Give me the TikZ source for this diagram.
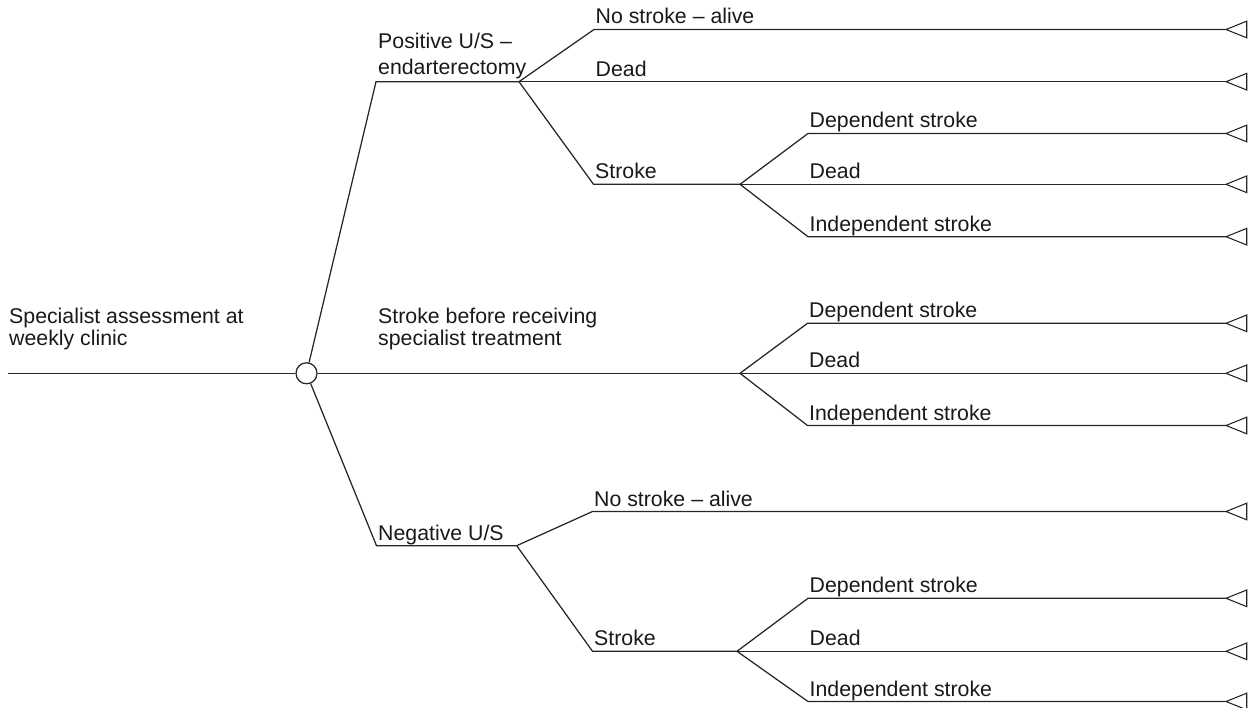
\documentclass[tikz,border=0pt]{standalone}
\usepackage{fontspec}
\setmainfont{Liberation Sans}
\begin{document}
\begin{tikzpicture}[x=1pt,y=-1pt,
  conn/.style={draw=black!85,line width=1.25pt,line join=miter},
  lbl/.style={anchor=base west,inner sep=0pt,text=black!90,font=\fontsize{21.3}{22}\selectfont,align=left},
  chance/.style={circle,draw=black!85,line width=1.25pt,fill=white,minimum size=21pt,inner sep=0pt},
  term/.pic={\draw[draw=black!85,line width=1.1pt,line join=miter] (0,0) -- (20.7,-8.3) -- (20.7,8.3) -- cycle;}
]
\useasboundingbox (0,0) rectangle (1255,708);

% ---- coordinates ----
\coordinate (r0) at (8,373.3);
\node[chance] (C) at (306.5,373.3) {};
\coordinate (P1) at (376,81.7);
\coordinate (PJ) at (519,81.7);
\coordinate (N1) at (376.5,545.7);
\coordinate (NJ) at (516.7,545.7);
\coordinate (MJ) at (740,373.3);

% top branch
\coordinate (a1) at (594,29.5);   \coordinate (ta1) at (1226,29.5);
\coordinate (ta2) at (1226,81.7);
\coordinate (a3) at (593.5,184.3);  \coordinate (S1) at (740,184.3);
\coordinate (b1) at (808,133.5);  \coordinate (tb1) at (1226,133.5);
\coordinate (tb2) at (1226,184.3);
\coordinate (b3) at (808,236.7);  \coordinate (tb3) at (1226,236.7);
% middle branch
\coordinate (m1) at (807.5,323.3); \coordinate (tm1) at (1226,323.3);
\coordinate (tm2) at (1226,373.3);
\coordinate (m3) at (807.5,425.5); \coordinate (tm3) at (1226,425.5);
% bottom branch
\coordinate (n1) at (592.5,511.5); \coordinate (tn1) at (1226,511.5);
\coordinate (n2) at (592.5,651.3);   \coordinate (S3) at (737,651.3);
\coordinate (c1) at (808,598.3);   \coordinate (tc1) at (1226,598.3);
\coordinate (tc2) at (1226,651.3);
\coordinate (c3) at (808,701.5);   \coordinate (tc3) at (1226,701.5);

% ---- connectors ----
\draw[conn] (r0) -- (C);
\draw[conn] (C) -- (P1) -- (PJ);
\draw[conn] (C) -- (MJ);
\draw[conn] (C) -- (N1) -- (NJ);

\draw[conn] (PJ) -- (a1) -- (ta1);
\draw[conn] (PJ) -- (ta2);
\draw[conn] (PJ) -- (a3) -- (S1);
\draw[conn] (S1) -- (b1) -- (tb1);
\draw[conn] (S1) -- (tb2);
\draw[conn] (S1) -- (b3) -- (tb3);

\draw[conn] (MJ) -- (m1) -- (tm1);
\draw[conn] (MJ) -- (tm2);
\draw[conn] (MJ) -- (m3) -- (tm3);

\draw[conn] (NJ) -- (n1) -- (tn1);
\draw[conn] (NJ) -- (n2) -- (S3);
\draw[conn] (S3) -- (c1) -- (tc1);
\draw[conn] (S3) -- (tc2);
\draw[conn] (S3) -- (c3) -- (tc3);

% ---- terminals ----
\foreach \t in {ta1,ta2,tb1,tb2,tb3,tm1,tm2,tm3,tn1,tc1,tc2,tc3}
  \pic at (\t) {term};

% ---- labels ----
\node[lbl] (Lroot) at (9,345) {Specialist assessment at\\weekly clinic};
\node[lbl] (Lpos) at (378,75) {Positive U/S --\\[4.7pt]endarterectomy};
\node[lbl] (Lmid) at (378,345) {Stroke before receiving\\specialist treatment};
\node[lbl] (Lneg) at (378,540) {Negative U/S};

\node[lbl] (La1) at (595.5,24) {No stroke -- alive};
\node[lbl] (La2) at (595.5,76.2) {Dead};
\node[lbl] (La3) at (595,178.8) {Stroke};
\node[lbl] (Lb1) at (809.5,128) {Dependent stroke};
\node[lbl] (Lb2) at (809.5,178.8) {Dead};
\node[lbl] (Lb3) at (809.5,231.2) {Independent stroke};

\node[lbl] (Lm1) at (809,317.8) {Dependent stroke};
\node[lbl] (Lm2) at (809,367.8) {Dead};
\node[lbl] (Lm3) at (809,420) {Independent stroke};

\node[lbl] (Ln1) at (594,506) {No stroke -- alive};
\node[lbl] (Ln2) at (594,645.8) {Stroke};
\node[lbl] (Lc1) at (809.5,592.8) {Dependent stroke};
\node[lbl] (Lc2) at (809.5,645.8) {Dead};
\node[lbl] (Lc3) at (809.5,696) {Independent stroke};
\end{tikzpicture}
\end{document}
